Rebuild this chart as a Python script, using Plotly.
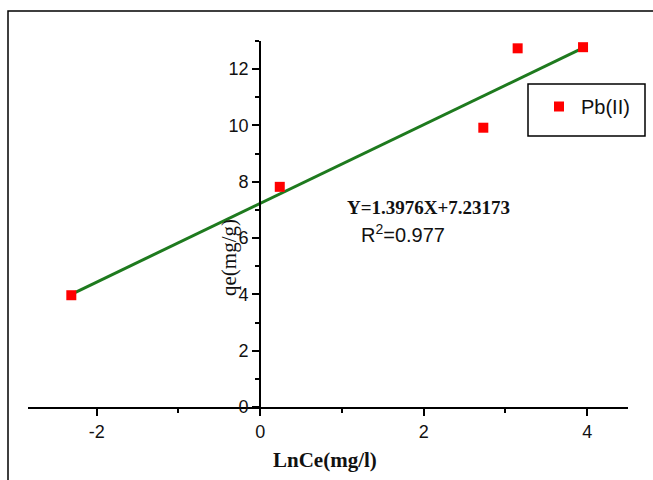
import plotly.graph_objects as go

# Data
x_vals = [-2.31, 0.24, 2.73, 3.15, 3.95]
y_vals = [3.97, 7.82, 9.92, 12.74, 12.78]
slope = 1.3976
intercept = 7.23173
fit_x = [-2.31, 3.97]
fit_y = [slope * v + intercept for v in fit_x]
series_name = "Pb(II)"
eq_text = "<b>Y=1.3976X+7.23173</b>"
r2_text = "R<sup>2</sup>=0.977"
x_tickvals = [-2, 0, 2, 4]
x_ticktext = ["-2", "0", "2", "4"]

W, H = 653, 480
L, R, T, B = 28, 25, 41, 73
PW, PH = W - L - R, H - T - B
XR = [-2.84, 4.5]
YR = [0, 13]

def px(xp):
    return (xp - L) / PW

def py(yp):
    return (H - B - yp) / PH

fig = go.Figure()
fig.add_trace(go.Scatter(x=fit_x, y=fit_y, mode="lines",
                         line=dict(color="#1e7a1e", width=3), showlegend=False))
fig.add_trace(go.Scatter(x=x_vals, y=y_vals, mode="markers", name=series_name,
                         marker=dict(symbol="square", color="#ff0000", size=10)))

ypos = (0 - XR[0]) / (XR[1] - XR[0])
tickfont = dict(family="Liberation Sans, Arial", size=18, color="#111")

fig.update_layout(
    width=W, height=H,
    margin=dict(l=L, r=R, t=T, b=B),
    paper_bgcolor="white", plot_bgcolor="white",
    xaxis=dict(range=XR, showgrid=False, zeroline=False, showline=True,
               linecolor="black", linewidth=2, ticks="outside", ticklen=7,
               tickwidth=2, tickcolor="black",
               tickmode="array", tickvals=x_tickvals, ticktext=x_ticktext,
               tickfont=tickfont,
               minor=dict(dtick=1, tick0=0, ticks="outside", ticklen=4, tickwidth=2,
                          tickcolor="black")),
    yaxis=dict(range=YR, showgrid=False, zeroline=False, showline=True,
               linecolor="black", linewidth=2, ticks="outside", ticklen=7,
               tickwidth=2, tickcolor="black", dtick=2, tick0=0,
               tickfont=tickfont, anchor="free", position=ypos,
               minor=dict(dtick=1, ticks="outside", ticklen=4, tickwidth=2,
                          tickcolor="black")),
    showlegend=True,
    legend=dict(x=px(537), y=py(87), xanchor="left", yanchor="top",
                bgcolor="rgba(0,0,0,0)", borderwidth=0, itemwidth=34,
                font=dict(family="Liberation Sans, Arial", size=20, color="#111")),
    shapes=[
        dict(type="rect", xref="paper", yref="paper",
             x0=px(528), x1=px(645), y0=py(136), y1=py(84),
             line=dict(color="black", width=1.5)),
        dict(type="rect", xref="paper", yref="paper",
             x0=px(8), x1=px(700), y0=py(520), y1=py(11),
             line=dict(color="black", width=1.5)),
    ],
    annotations=[
        dict(text="<b>LnCe(mg/l)</b>", xref="paper", yref="paper", x=px(325), y=py(460),
             xanchor="center", yanchor="middle", showarrow=False,
             font=dict(family="Liberation Serif, Times New Roman", size=21, color="#111")),
        dict(text="qe(mg/g)", xref="paper", yref="paper", x=px(229), y=py(258),
             xanchor="center", yanchor="middle", showarrow=False, textangle=-90,
             font=dict(family="Liberation Serif, Times New Roman", size=21, color="#111")),
        dict(text=eq_text, xref="paper", yref="paper", x=px(345), y=py(208),
             xanchor="left", yanchor="middle", showarrow=False,
             font=dict(family="Liberation Serif, Times New Roman", size=19, color="#111")),
        dict(text=r2_text, xref="paper", yref="paper", x=px(359), y=py(233),
             xanchor="left", yanchor="middle", showarrow=False,
             font=dict(family="Liberation Sans, Arial", size=20, color="#111")),
    ],
)

fig.write_html("out.html")
